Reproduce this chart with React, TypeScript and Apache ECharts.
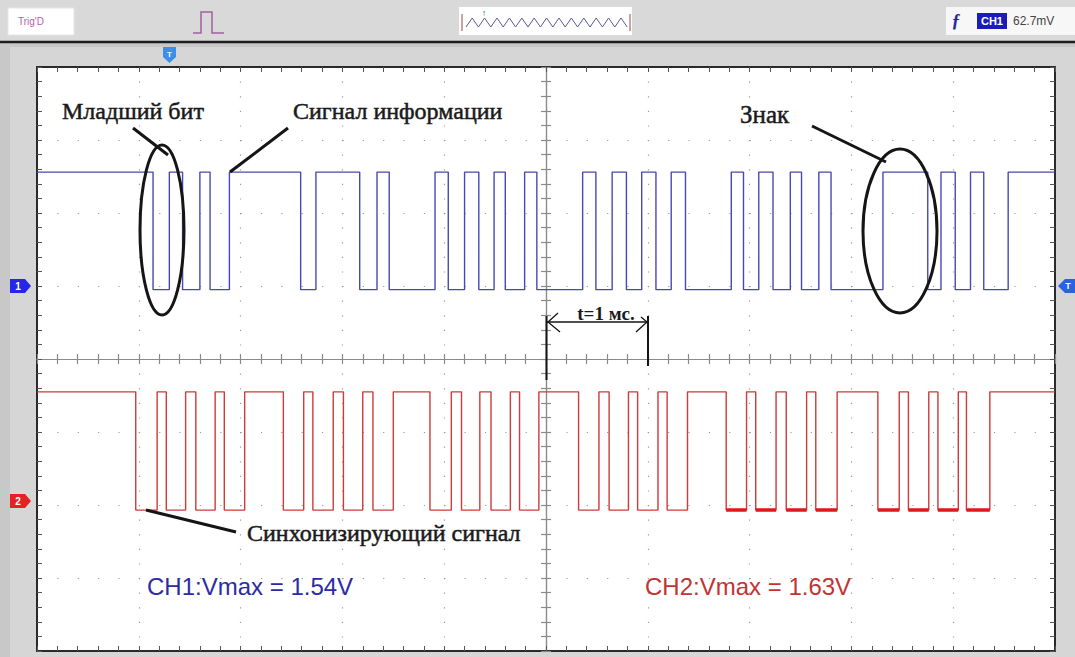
import React, { useEffect, useRef } from "react";
import * as echarts from "echarts";

// Time axis: 10 divisions of 1 ms each (0 = left edge of screen)
const timeDivisions = [0, 10];
const voltDivisions = [-4, 4];

// CH1 (information signal) edges, ms; starts high
const ch1Edges = [1.14, 1.30, 1.43, 1.60, 1.70, 1.89, 2.59, 2.74, 3.17, 3.34, 3.46, 3.91, 4.04, 4.20, 4.34, 4.49, 4.60, 4.79, 4.91, 5.36, 5.49, 5.65, 5.79, 5.94, 6.08, 6.23, 6.37, 6.82, 6.94, 7.09, 7.23, 7.40, 7.51, 7.68, 7.80, 8.31, 8.75, 8.88, 9.02, 9.17, 9.30, 9.54];
const ch1Levels = [2.56, 0.95]; // high, low (divisions)

// CH2 (sync signal) edges, ms; starts high
const ch2Edges = [0.97, 1.18, 1.27, 1.46, 1.56, 1.75, 1.84, 2.04, 2.42, 2.62, 2.71, 2.91, 3.01, 3.20, 3.30, 3.50, 3.86, 4.07, 4.17, 4.35, 4.46, 4.65, 4.74, 4.93, 5.32, 5.52, 5.62, 5.81, 5.90, 6.10, 6.19, 6.39, 6.77, 6.97, 7.06, 7.26, 7.36, 7.56, 7.65, 7.86, 8.26, 8.47, 8.56, 8.76, 8.85, 9.05, 9.13, 9.36];
const ch2Levels = [-0.45, -2.07];
const ch2NoisyFromEdge = 32; // low intervals from this edge on are noisy

const ch1Label = "CH1:Vmax = 1.54V";
const ch2Label = "CH2:Vmax = 1.63V";

function stepData(edges: number[], levels: number[]) {
  const [hi, lo] = levels;
  let lvl = hi;
  const pts: number[][] = [[timeDivisions[0], lvl]];
  for (const e of edges) {
    pts.push([e, lvl]);
    lvl = lvl === hi ? lo : hi;
    pts.push([e, lvl]);
  }
  pts.push([timeDivisions[1], lvl]);
  return pts;
}

function noisyLows(edges: number[], levels: number[], from: number) {
  const pts: any[] = [];
  for (let i = from; i + 1 < edges.length; i += 2) {
    pts.push([edges[i], levels[1]]);
    pts.push([edges[i + 1], levels[1]]);
    pts.push(["-", "-"]);
  }
  return pts;
}

const GL = 37, GT = 67, GW = 1018, GH = 584;
const SERIF = "'Liberation Serif', 'Times New Roman', serif";
const SANS = "'Liberation Sans', Arial, sans-serif";

export default function App() {
  const ref = useRef<HTMLDivElement>(null);
  useEffect(() => {
    document.body.style.margin = "0";
    const chart = echarts.init(ref.current!, null, { renderer: "svg" });
    const frameAxis = (pos: string, dim: "x" | "y", grid: boolean) => ({
      type: "value",
      gridIndex: 0,
      position: pos,
      min: dim === "x" ? timeDivisions[0] : voltDivisions[0],
      max: dim === "x" ? timeDivisions[1] : voltDivisions[1],
      interval: 1,
      axisLine: { show: true, onZero: false, lineStyle: { color: "#2a2a2a", width: 2 } },
      axisTick: { show: true, inside: true, length: 5, lineStyle: { color: "#555", width: 1 } },
      minorTick: { show: true, splitNumber: 5, length: 5, lineStyle: { color: "#555", width: 1 } },
      axisLabel: { show: false },
      splitLine: {
        show: grid,
        lineStyle: { color: "#9a9a9a", width: 1.2, type: dim === "x" ? [1.2, 13.4] : [1.2, 19.16] },
      },
      minorSplitLine: { show: false },
    });
    const centerAxis = (dim: "x" | "y", inside: boolean, idx: number) => ({
      type: "value",
      gridIndex: 1,
      position: dim === "x" ? "bottom" : "left",
      min: dim === "x" ? -5 : -4,
      max: dim === "x" ? 5 : 4,
      interval: 1,
      axisLine: { show: true, onZero: true, onZeroAxisIndex: idx, lineStyle: { color: "#8a8a8a", width: 1.2 } },
      axisTick: { show: true, inside, length: 5, lineStyle: { color: "#8a8a8a", width: 1.2 } },
      minorTick: { show: true, splitNumber: 5, length: 5, lineStyle: { color: "#8a8a8a", width: 1.2 } },
      axisLabel: { show: false },
      splitLine: { show: false },
    });

    const zig: number[][] = [];
    for (let i = 0; i <= 26; i++) zig.push([466 + i * 6.2, i % 2 === 0 ? 27 : 18]);

    const bg = (o: any) => ({ ...o, z: -10, silent: true });
    const fg = (o: any) => ({ ...o, z: 60, silent: true });
    const thick = { stroke: "#151515", lineWidth: 3, fill: "none" };
    const note = (x: number, y: number, text: string, size = 24) =>
      fg({ type: "text", style: { x, y, text, fill: "#1a1a1a", stroke: "#1a1a1a", lineWidth: 0.5, font: `${size}px ${SERIF}`, verticalAlign: "middle" } });

    chart.setOption({
      animation: false,
      backgroundColor: "#c8c8c8",
      grid: [
        { left: GL, top: GT, width: GW, height: GH, show: true, backgroundColor: "#ffffff", borderWidth: 0 },
        { left: GL, top: GT, width: GW, height: GH, show: false },
      ],
      xAxis: [frameAxis("bottom", "x", true), frameAxis("top", "x", false), centerAxis("x", true, 2), centerAxis("x", false, 2)],
      yAxis: [frameAxis("left", "y", true), frameAxis("right", "y", false), centerAxis("y", true, 2), centerAxis("y", false, 2)],
      series: [
        {
          type: "line",
          name: "CH1",
          xAxisIndex: 0,
          yAxisIndex: 0,
          data: stepData(ch1Edges, ch1Levels),
          showSymbol: false,
          lineStyle: { color: "#4848b4", width: 1.4 },
          z: 5,
        },
        {
          type: "line",
          name: "CH2",
          xAxisIndex: 0,
          yAxisIndex: 0,
          data: stepData(ch2Edges, ch2Levels),
          showSymbol: false,
          lineStyle: { color: "#cf3a3a", width: 1.4 },
          z: 5,
        },
        {
          type: "line",
          name: "CH2 noise",
          xAxisIndex: 0,
          yAxisIndex: 0,
          data: noisyLows(ch2Edges, ch2Levels, ch2NoisyFromEdge),
          connectNulls: false,
          showSymbol: false,
          lineStyle: { color: "#e01818", width: 3.5 },
          z: 6,
        },
      ],
      graphic: [
        // header
        bg({ type: "rect", shape: { x: 0, y: 0, width: 1075, height: 41 }, style: { fill: "#d9d9d9" } }),
        bg({ type: "rect", shape: { x: 10, y: 47, width: 1065, height: 610 }, style: { fill: "#d6d6d6" } }),
        bg({ type: "line", shape: { x1: 0, y1: 42, x2: 1075, y2: 42 }, style: { stroke: "#1e1e1e", lineWidth: 2.5 } }),
        bg({ type: "rect", shape: { x: 8, y: 8, width: 66, height: 27 }, style: { fill: "#ffffff", stroke: "#e6e6e6" } }),
        fg({ type: "text", style: { x: 18, y: 21, text: "Trig'D", fill: "#c05aa8", font: `10px ${SANS}`, verticalAlign: "middle" } }),
        fg({ type: "polyline", shape: { points: [[193, 33], [201, 33], [201, 12], [212, 12], [212, 33], [224, 33]] }, style: { stroke: "#a062a0", lineWidth: 1.5, fill: "none" } }),
        bg({ type: "rect", shape: { x: 459, y: 7, width: 173, height: 28 }, style: { fill: "#ffffff" } }),
        fg({ type: "polyline", shape: { points: zig }, style: { stroke: "#5a5a9a", lineWidth: 1, fill: "none" } }),
        fg({ type: "line", shape: { x1: 462, y1: 14, x2: 462, y2: 31 }, style: { stroke: "#8a4a4a", lineWidth: 1 } }),
        fg({ type: "line", shape: { x1: 630, y1: 14, x2: 630, y2: 31 }, style: { stroke: "#8a4a4a", lineWidth: 1 } }),
        fg({ type: "text", style: { x: 484, y: 13, text: "↑", fill: "#3050c0", font: `9px ${SANS}`, align: "center", verticalAlign: "middle" } }),
        bg({ type: "rect", shape: { x: 946, y: 7, width: 129, height: 28 }, style: { fill: "#f7f7f7" } }),
        fg({ type: "text", style: { x: 956, y: 21, text: "ƒ", fill: "#2a2a9a", font: `italic bold 18px ${SERIF}`, align: "center", verticalAlign: "middle" } }),
        fg({ type: "rect", shape: { x: 977, y: 13, width: 30, height: 16 }, style: { fill: "#1c1cb8" } }),
        fg({ type: "text", style: { x: 992, y: 21, text: "CH1", fill: "#ffffff", font: `bold 11px ${SANS}`, align: "center", verticalAlign: "middle" } }),
        fg({ type: "text", style: { x: 1013, y: 21, text: "62.7mV", fill: "#444444", font: `12px ${SANS}`, verticalAlign: "middle" } }),
        // trigger position marker
        fg({ type: "polygon", shape: { points: [[163, 47], [176, 47], [176, 57], [169.5, 63], [163, 57]] }, style: { fill: "#3c8ee6" } }),
        fg({ type: "text", style: { x: 169.5, y: 54, text: "T", fill: "#ffffff", font: `bold 8px ${SANS}`, align: "center", verticalAlign: "middle" } }),
        // channel markers
        fg({ type: "polygon", shape: { points: [[10, 279], [25, 279], [31, 286], [25, 293], [10, 293]] }, style: { fill: "#2626e6" } }),
        fg({ type: "text", style: { x: 18, y: 286, text: "1", fill: "#ffffff", font: `bold 10px ${SANS}`, align: "center", verticalAlign: "middle" } }),
        fg({ type: "polygon", shape: { points: [[10, 494], [25, 494], [31, 501], [25, 508], [10, 508]] }, style: { fill: "#e42222" } }),
        fg({ type: "text", style: { x: 18, y: 501, text: "2", fill: "#ffffff", font: `bold 10px ${SANS}`, align: "center", verticalAlign: "middle" } }),
        fg({ type: "polygon", shape: { points: [[1075, 279], [1065, 279], [1058, 286], [1065, 293], [1075, 293]] }, style: { fill: "#2a62e0" } }),
        fg({ type: "text", style: { x: 1068, y: 286, text: "T", fill: "#ffffff", font: `bold 9px ${SANS}`, align: "center", verticalAlign: "middle" } }),
        // annotations
        note(62, 111, "Младший бит"),
        fg({ type: "line", shape: { x1: 133, y1: 128, x2: 168, y2: 155 }, style: { stroke: "#151515", lineWidth: 3 } }),
        fg({ type: "ellipse", shape: { cx: 162, cy: 230, rx: 22, ry: 85 }, style: thick }),
        note(293, 111, "Сигнал информации"),
        fg({ type: "line", shape: { x1: 288, y1: 128, x2: 230, y2: 172 }, style: { stroke: "#151515", lineWidth: 3 } }),
        note(740, 114, "Знак", 25),
        fg({ type: "line", shape: { x1: 812, y1: 126, x2: 886, y2: 162 }, style: { stroke: "#151515", lineWidth: 3 } }),
        fg({ type: "ellipse", shape: { cx: 900, cy: 231, rx: 37, ry: 82 }, style: thick }),
        // t = 1 ms
        fg({ type: "line", shape: { x1: 546.5, y1: 316, x2: 546.5, y2: 380 }, style: { stroke: "#151515", lineWidth: 2 } }),
        fg({ type: "line", shape: { x1: 648, y1: 316, x2: 648, y2: 366 }, style: { stroke: "#151515", lineWidth: 2 } }),
        fg({ type: "line", shape: { x1: 547, y1: 322, x2: 648, y2: 322 }, style: { stroke: "#151515", lineWidth: 1.5 } }),
        fg({ type: "polyline", shape: { points: [[558, 313], [548, 322], [560, 332]] }, style: { stroke: "#151515", lineWidth: 1.3, fill: "none" } }),
        fg({ type: "polyline", shape: { points: [[641, 317], [647, 322], [636, 332]] }, style: { stroke: "#151515", lineWidth: 1.3, fill: "none" } }),
        fg({ type: "text", style: { x: 606, y: 313, text: "t=1 мс.", fill: "#1a1a1a", font: `bold 19px ${SERIF}`, align: "center", verticalAlign: "middle" } }),
        // sync signal
        fg({ type: "line", shape: { x1: 146, y1: 510, x2: 236, y2: 532 }, style: { stroke: "#151515", lineWidth: 3 } }),
        note(247, 533, "Синхонизирующий сигнал"),
        // Vmax labels
        fg({ type: "text", style: { x: 147, y: 586, text: ch1Label, fill: "#2b2ba6", font: `24px ${SANS}`, verticalAlign: "middle" } }),
        fg({ type: "text", style: { x: 645, y: 586, text: ch2Label, fill: "#c23434", font: `24px ${SANS}`, verticalAlign: "middle" } }),
      ],
    });
    return () => chart.dispose();
  }, []);
  return <div ref={ref} style={{ position: "fixed", left: 0, top: 0, width: 1075, height: 657 }} />;
}
